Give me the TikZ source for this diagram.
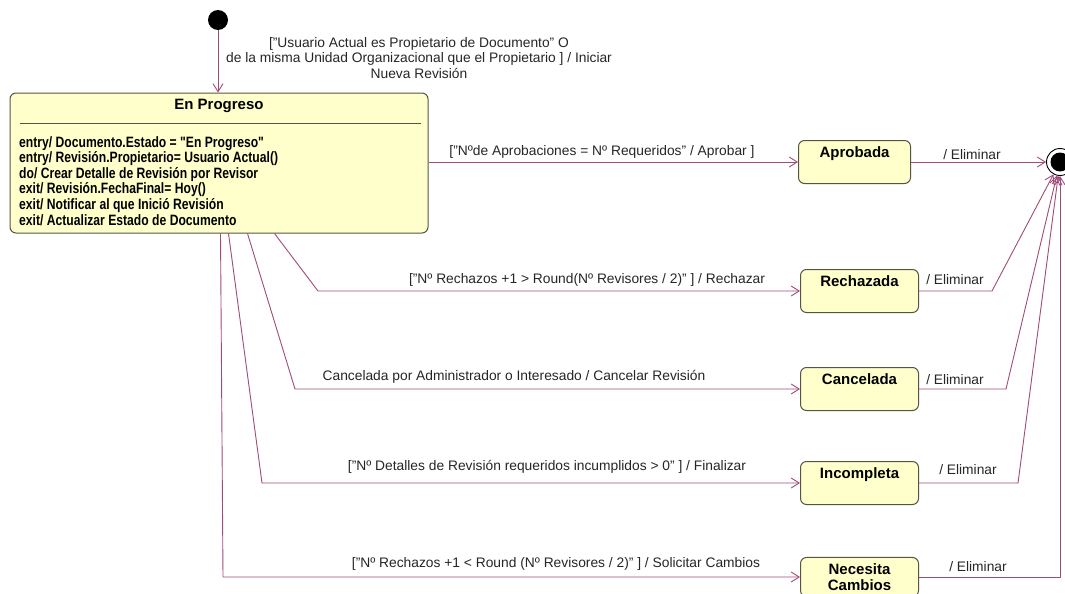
\documentclass[tikz,border=0pt]{standalone}
\usepackage{fontspec}
\setmainfont{Liberation Sans}
\newfontfamily\narrowfont[FakeStretch=0.81]{Liberation Sans}
\usetikzlibrary{arrows.meta}
\definecolor{edge}{RGB}{160,75,120}
\definecolor{statefill}{RGB}{255,255,204}
\definecolor{stateborder}{RGB}{85,85,70}
\tikzset{
  statebox/.style={draw=stateborder, fill=statefill, rounded corners=6pt, line width=1pt,
    minimum width=118pt, inner xsep=4pt, inner ysep=6pt, align=center,
    font=\bfseries\fontsize{15}{16}\selectfont},
  oneline/.style={text height=11pt, text depth=20pt},
  trans/.style={draw=edge, line width=0.9pt, -{Straight Barb[length=8pt,width=10pt]}},
  lbl/.style={font=\fontsize{13.8}{15.5}\selectfont, text=black!85, inner sep=0pt, align=center},
}
\begin{document}
\begin{tikzpicture}[x=1pt,y=-1pt]
\useasboundingbox (0,0) rectangle (1065,594);
\fill[white] (0,0) rectangle (1065,594);
\clip (0,0) rectangle (1065,594);

% initial state
\node[circle, fill=black, minimum size=20pt, inner sep=0pt] (init) at (218,20) {};

% En Progreso composite box
\node[draw=stateborder, fill=statefill, rounded corners=6pt, line width=1pt,
      minimum width=418pt, minimum height=140pt, inner sep=0pt] (prog) at (219,163) {};
\node[font=\bfseries\fontsize{15}{16}\selectfont, inner sep=0pt] (progtitle) at (219,106) {En Progreso};
\draw[stateborder, line width=0.8pt] ([xshift=10pt,yshift=-31pt]prog.north west) -- ([xshift=-8pt,yshift=-31pt]prog.north east);
\node[anchor=north west, align=left, inner sep=0pt,
      font=\narrowfont\bfseries\fontsize{15}{15.6}\selectfont] (progbody) at (19,136)
  {entry/ Documento.Estado = "En Progreso"\\
   entry/ Revisión.Propietario= Usuario Actual()\\
   do/ Crear Detalle de Revisión por Revisor\\
   exit/ Revisión.FechaFinal= Hoy()\\
   exit/ Notificar al que Inició Revisión\\
   exit/ Actualizar Estado de Documento};

% target states
\node[statebox, oneline, minimum width=112pt, anchor=west] (apr) at (798,162) {Aprobada};
\node[statebox, oneline, anchor=west] (rec) at (800,291) {Rechazada};
\node[statebox, oneline, anchor=west] (can) at (800,389) {Cancelada};
\node[statebox, oneline, anchor=west] (inc) at (800,483) {Incompleta};
\node[statebox, inner ysep=6pt, anchor=west] (nec) at (800,577) {Necesita\\Cambios};

% final state
\node[circle, draw=black, fill=white, line width=0.9pt, minimum size=27pt, inner sep=0pt] (fin) at (1060,162) {};
\fill[black] (fin.center) circle (9.5pt);

% elbow coordinates
\coordinate (r1) at (318,291);
\coordinate (c1) at (295,389);
\coordinate (i1) at (262,483);
\coordinate (n1) at (223,577);
\coordinate (re) at (992,291);
\coordinate (ce) at (1006,389);
\coordinate (ie) at (1018,483);
\coordinate (ne) at (1060,577);

% transitions
\draw[trans] (init) -- (init |- prog.north);
\draw[trans] (prog.east |- apr.west) -- (apr.west);
\draw[trans] ([xshift=265pt]prog.south west) -- (r1) -- (rec.west);
\draw[trans] ([xshift=238pt]prog.south west) -- (c1) -- (can.west);
\draw[trans] ([xshift=219pt]prog.south west) -- (i1) -- (inc.west);
\draw[trans] ([xshift=211pt]prog.south west) -- (n1) -- (nec.west);

\draw[trans] (apr.east) -- (fin);
\draw[trans] (rec.east) -- (re) -- (fin);
\draw[trans] (can.east) -- (ce) -- (fin);
\draw[trans] (inc.east) -- (ie) -- (fin);
\draw[trans] (nec.east) -- (ne) -- (fin);

% labels
\node[lbl] (l0) at (419,58) {["Usuario Actual es Propietario de Documento" O\\
  de la misma Unidad Organizacional que el Propietario ] / Iniciar\\ Nueva Revisión};
\node[lbl] (l1) at (602,152) {["Nºde Aprobaciones = Nº Requeridos" / Aprobar ]};
\node[lbl] (l2) at (587,280) {["Nº Rechazos +1 > Round(Nº Revisores / 2)" ] / Rechazar};
\node[lbl] (l3) at (514,377) {Cancelada por Administrador o Interesado / Cancelar Revisión};
\node[lbl] (l4) at (547,467) {["Nº Detalles de Revisión requeridos incumplidos > 0" ] / Finalizar};
\node[lbl] (l5) at (556,564) {["Nº Rechazos +1 < Round (Nº Revisores / 2)" ] / Solicitar Cambios};

\node[lbl] (e1) at (972,155) {/ Eliminar};
\node[lbl] (e2) at (955,280) {/ Eliminar};
\node[lbl] (e3) at (955,380) {/ Eliminar};
\node[lbl] (e4) at (968,470) {/ Eliminar};
\node[lbl] (e5) at (978,567) {/ Eliminar};
\end{tikzpicture}
\end{document}
